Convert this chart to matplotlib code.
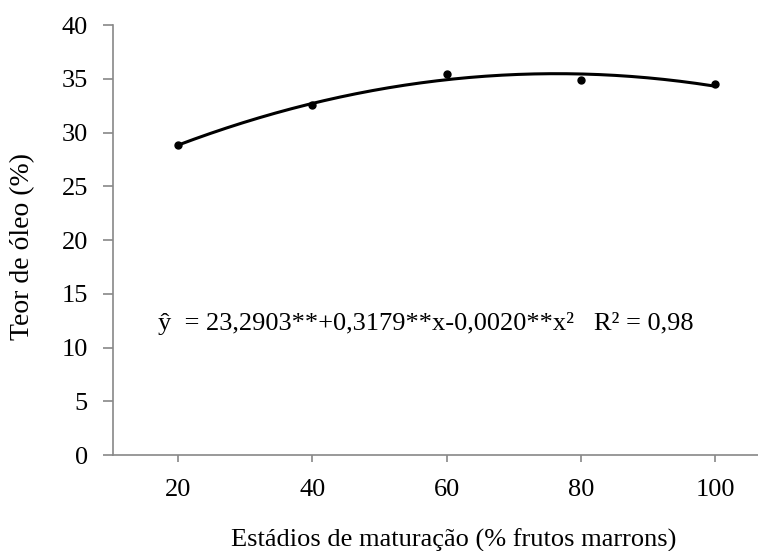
import numpy as np
import matplotlib
matplotlib.use('Agg')
import matplotlib.pyplot as plt

plt.rcParams['font.family'] = ['Liberation Serif', 'DejaVu Serif']

estadios = [20, 40, 60, 80, 100]  # % frutos marrons
teor_oleo = [28.8, 32.6, 35.4, 34.9, 34.5]  # %
x_ticks = [20, 40, 60, 80, 100]
y_ticks = [0, 5, 10, 15, 20, 25, 30, 35, 40]
equacao = 'ŷ  = 23,2903**+0,3179**x-0,0020**x²   R² = 0,98'

# quadratic trend line fitted to the points (same as the one in the label)
coef = np.polyfit(estadios, teor_oleo, 2)
xs = np.linspace(min(estadios), max(estadios), 200)
ys = np.polyval(coef, xs)

fs = 19

fig = plt.figure(figsize=(7.58, 5.51), dpi=100)
ax = fig.add_axes([0.149, 0.1742, 0.851, 0.7804])

ax.plot(xs, ys, color='black', lw=2.2)
ax.plot(estadios, teor_oleo, 'o', color='black', markersize=5)

ax.set_xlim(10.3, 106.4)
ax.set_ylim(0, 40)
ax.set_xticks(x_ticks)
ax.set_yticks(y_ticks)

for s in ['top', 'right']:
    ax.spines[s].set_visible(False)
for s in ['left', 'bottom']:
    ax.spines[s].set_color('#888888')
    ax.spines[s].set_linewidth(1.2)
ax.tick_params(axis='both', colors='#888888', labelcolor='black', labelsize=fs,
               direction='out', width=1.2)
ax.tick_params(axis='y', length=7, pad=11)
ax.tick_params(axis='x', length=5, pad=12)

ax.text(17.0, 11.6, equacao, fontsize=fs, va='baseline', ha='left')

fig.text(23 / 758, 1 - 246 / 551, 'Teor de óleo (%)', fontsize=fs + 1,
         rotation=90, ha='center', va='center')
fig.text(454 / 758, 1 - 540 / 551, 'Estádios de maturação (% frutos marrons)',
         fontsize=fs, ha='center', va='center')

fig.savefig('out.png', dpi=100)
